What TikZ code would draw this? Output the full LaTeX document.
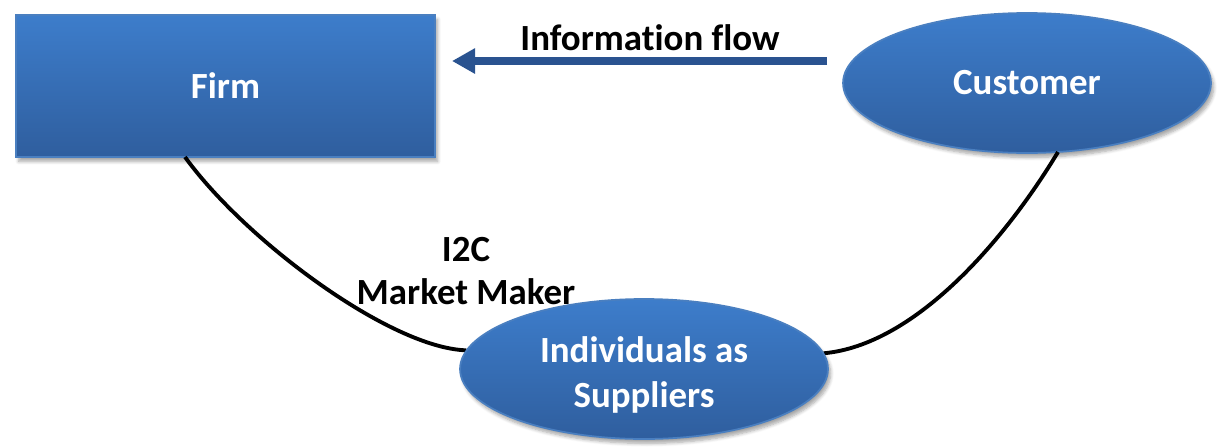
\documentclass[tikz,border=0pt]{standalone}
\usepackage{fontspec}
\setmainfont[Ligatures=NoCommon]{Carlito}
\usetikzlibrary{shapes.geometric,shadows.blur,arrows.meta}
\definecolor{fillTop}{HTML}{3D7DCB}
\definecolor{fillBot}{HTML}{2F5E9E}
\definecolor{rim}{HTML}{4A7FC0}
\definecolor{flowBlue}{HTML}{2A5390}
\tikzset{
  bluefill/.style={draw=rim, line width=1pt, top color=fillTop, bottom color=fillBot,
    text=white, font=\fontsize{21}{25}\selectfont\bfseries, align=center,
    blur shadow={shadow xshift=1.5pt, shadow yshift=-2.5pt, shadow blur steps=6, shadow opacity=35}},
  firmbox/.style={bluefill, rectangle, minimum width=8.38cm, minimum height=2.84cm, inner sep=0pt},
  oval/.style={bluefill, ellipse, minimum width=7.36cm, minimum height=2.8cm, inner sep=0pt},
  tie/.style={line width=2.2pt, black},
  caption/.style={font=\fontsize{21}{24.5}\selectfont\bfseries, text=black, align=center}
}
\begin{document}
\begin{tikzpicture}[x=0.02cm, y=-0.02cm]
  \useasboundingbox (0,0) rectangle (1219,447);

  % connector ends on the firm box and the customer oval
  \coordinate (firmfoot) at (185,157);
  \coordinate (custfoot) at (1058,152);

  % shapes
  \node[firmbox] (firm) at (225.5,86) {Firm};
  \node[oval] (cust) at (1027,83) {Customer};
  \path (644,369) node[ellipse, minimum width=7.36cm, minimum height=2.8cm, inner sep=0pt] (ind) {};

  % links to the suppliers oval
  \draw[tie] (firmfoot) .. controls (245,240) and (390,348) .. (ind.174);
  \draw[tie] (custfoot) .. controls (1005,240) and (915,345) .. (ind.5);

  % suppliers oval on top of the line ends, label set a little low
  \node[oval] (indbox) at (ind) {};
  \node[text=white, font=\fontsize{21}{25.5}\selectfont\bfseries, align=center] (indlbl)
    at (644,375) {Individuals as\\Suppliers};

  % information flow arrow
  \coordinate (flowstart) at (827,61);
  \coordinate (flowend) at (452,61);
  \draw[flowBlue, line width=0.16cm, -{Triangle[length=0.46cm, width=0.48cm]}] (flowstart) -- (flowend);
  \node[caption] (flowlbl) at (650,38) {Information flow};

  % market maker label
  \node[caption] (mm) at (466,271) {I2C\\Market Maker};
\end{tikzpicture}
\end{document}
